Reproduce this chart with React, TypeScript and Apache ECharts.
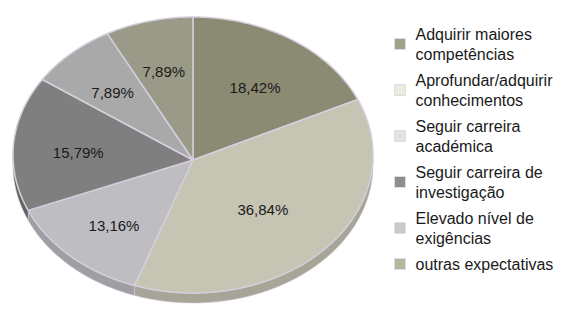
import React, { useEffect, useRef } from 'react';
import * as echarts from 'echarts';

const categories = [
  'Adquirir maiores\ncompetências',
  'Aprofundar/adquirir\nconhecimentos',
  'Seguir carreira\nacadémica',
  'Seguir carreira de\ninvestigação',
  'Elevado nível de\nexigências',
  'outras expectativas',
];
const values = [18.42, 36.84, 13.16, 15.79, 7.89, 7.89];
const faceColors = ['#8b8b74', '#c6c4b3', '#bebdc1', '#7f7f7f', '#a9a9a9', '#9a9a88'];
const sideColors = ['#6f6f5d', '#a7a597', '#9f9ea2', '#626262', '#8a8a8a', '#7d7d6d'];
const legendColors = ['#a2a28a', '#eeecdc', '#e4e1e6', '#8e8e8e', '#cbcbcb', '#b7b7a0'];

const CX = 193;
const CY = 155;
const RX = 180;
const RY = 138;
const HX = 193;
const HY = 160;
const DEPTH = 10;
const FONT = '"Liberation Sans", Arial, sans-serif';

function fmt(v: number) {
  return v.toFixed(2).replace('.', ',') + '%';
}

function makeRenderItem(i: number) {
  return (params: any, api: any) => {
    const total = values.reduce((a, b) => a + b, 0);
    let acc = 0;
    for (let j = 0; j < i; j++) acc += values[j];
    const v = api.value(0);
    const a0 = (acc / total) * Math.PI * 2;
    const a1 = ((acc + v) / total) * Math.PI * 2;
    const pt = (t: number, dy = 0) => [CX + RX * Math.sin(t), CY - RY * Math.cos(t) + dy];
    const arcPts = (s: number, e: number, dy = 0) => {
      const n = Math.max(6, Math.ceil((e - s) / (Math.PI / 180)));
      const out: number[][] = [];
      for (let k = 0; k <= n; k++) out.push(pt(s + ((e - s) * k) / n, dy));
      return out;
    };
    const children: any[] = [];
    const s0 = Math.max(a0, Math.PI / 2);
    const s1 = Math.min(a1, (3 * Math.PI) / 2);
    if (s1 > s0) {
      const top = arcPts(s0, s1);
      const bottom = arcPts(s0, s1, DEPTH).reverse();
      children.push({
        type: 'polygon',
        shape: { points: top.concat(bottom) },
        style: { fill: sideColors[i], stroke: '#d6cddd', lineWidth: 0.6 },
      });
    }
    children.push({
      type: 'polygon',
      shape: { points: [[HX, HY]].concat(arcPts(a0, a1)) },
      style: { fill: faceColors[i], stroke: '#d6cddd', lineWidth: 1.5, lineJoin: 'round' },
    });
    const mid = (a0 + a1) / 2;
    const half = (a1 - a0) / 2;
    const f = ((2 / 3) * Math.sin(half)) / half;
    children.push({
      type: 'text',
      x: HX + f * RX * Math.sin(mid),
      y: HY - f * RY * Math.cos(mid),
      style: {
        text: fmt(v),
        fill: '#1a1a1a',
        font: `15px ${FONT}`,
        textAlign: 'center',
        textVerticalAlign: 'middle',
      },
    });
    return { type: 'group', children };
  };
}

export default function App() {
  const ref = useRef<HTMLDivElement>(null);
  useEffect(() => {
    if (!ref.current) return;
    const chart = echarts.init(ref.current, undefined, { renderer: 'svg' });
    chart.setOption({
      animation: false,
      backgroundColor: '#ffffff',
      legend: {
        orient: 'vertical',
        left: 394,
        top: 24,
        padding: 0,
        itemGap: 6,
        itemWidth: 11,
        itemHeight: 11,
        icon: 'rect',
        selectedMode: false,
        itemStyle: { borderColor: '#e3d9e9', borderWidth: 1 },
        textStyle: {
          fontFamily: FONT,
          fontSize: 16,
          lineHeight: 20,
          color: '#1a1a1a',
          padding: [0, 0, 0, 5],
        },
        data: categories,
      },
      series: categories.map((name, i) => ({
        type: 'custom',
        name,
        coordinateSystem: 'none',
        itemStyle: { color: legendColors[i] },
        data: [values[i]],
        renderItem: makeRenderItem(i),
      })),
    });
    return () => chart.dispose();
  }, []);
  return (
    <div
      ref={ref}
      style={{ position: 'absolute', left: 0, top: 0, width: 563, height: 311 }}
    />
  );
}
